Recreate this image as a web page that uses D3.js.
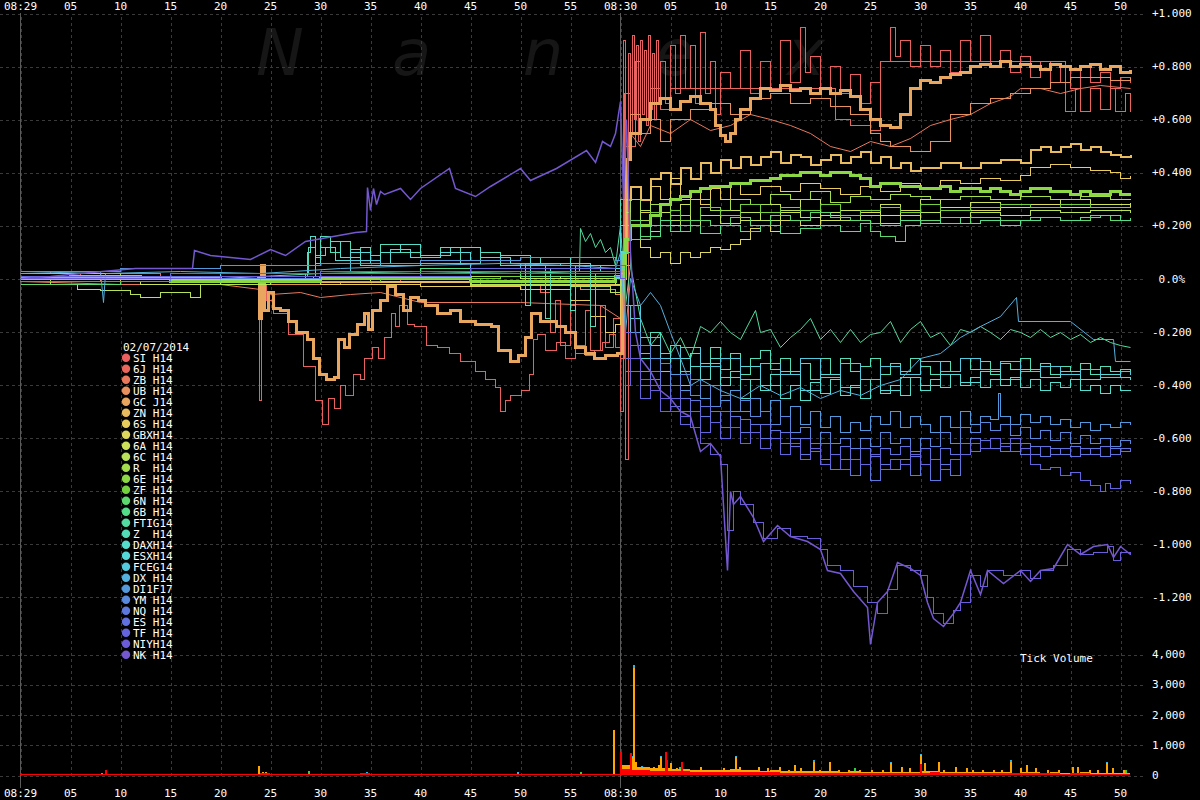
<!DOCTYPE html>
<html><head><meta charset="utf-8">
<script src="https://cdn.jsdelivr.net/npm/d3@7"></script>
<style>
body{margin:0;background:#000;}
svg{display:block;}
text{font-family:"DejaVu Sans Mono",monospace;font-size:11px;fill:#fff;white-space:pre;}
</style>
</head><body><svg id="c" width="1200" height="800"></svg>
<script>
// ---------------- DATA (seconds after 08:29:00, % change) ----------------
const legendTitle = "02/07/2014";
const seriesNames = ["SI H14","6J H14","ZB H14","UB H14","GC J14","ZN H14","6S H14","GBXH14","6A H14","6C H14","R  H14","6E H14","ZF H14","6N H14","6B H14","FTIG14","Z  H14","DAXH14","ESXH14","FCEG14","DX H14","DI1F17","YM H14","NQ H14","ES H14","TF H14","NIYH14","NK H14"];
const seriesColors = ["#e8605f","#e8665c","#e8785c","#e8905e","#e8a65e","#e8bc5e","#e8cc5e","#dcd85e","#cce05a","#b8e058","#a4dc4c","#8cd844","#74d03c","#5cd86c","#54dc88","#54dca0","#54dcb8","#54dccc","#54d8d8","#54c8dc","#54b0dc","#5498dc","#5888dc","#5c78dc","#6070dc","#6464dc","#6c5cd8","#7458d0"];

const SI = [[0,0.02],[3,0.03],[8,0.01],[15,0.0],[22,-0.01],[23.8,0.0],[23.9,-0.46],[24.1,-0.02],[24.6,-0.08],[25.3,-0.13],[26.8,-0.21],[28.3,-0.33],[29.5,-0.46],[30.2,-0.55],[30.8,-0.45],[31.4,-0.49],[32.0,-0.40],[32.5,-0.44],[33.3,-0.36],[34.0,-0.38],[34.4,-0.30],[35.2,-0.26],[35.8,-0.30],[36.4,-0.22],[37.1,-0.13],[37.5,-0.18],[37.9,-0.10],[38.7,-0.17],[39.4,-0.18],[40.6,-0.25],[41.7,-0.26],[42.9,-0.28],[44,-0.31],[45.5,-0.35],[46.5,-0.38],[47.5,-0.41],[48,-0.50],[48.5,-0.46],[49,-0.44],[50.1,-0.42],[50.9,-0.36],[51.3,-0.23],[51.7,-0.21],[52.5,-0.27],[53.6,-0.24],[54.5,-0.3],[55.5,-0.25],[56.5,-0.29],[57.4,-0.27],[58.2,-0.24],[58.9,-0.21],[59.5,-0.26],[60.0,-0.5],[60.3,0.9],[60.5,-0.68],[60.8,0.85],[61.0,0.55],[61.2,0.92],[61.4,0.6],[61.6,0.88],[61.8,0.52],[62.0,0.9],[62.2,0.62],[62.4,0.86],[62.6,0.58],[62.8,0.92],[63.0,0.64],[63.2,0.85],[63.4,0.6],[63.6,0.9],[63.8,0.66],[64,0.82],[64.5,0.66],[65,0.88],[65.5,0.7],[66,0.92],[66.5,0.72],[67,0.88],[67.5,0.66],[68,0.93],[68.5,0.7],[69,0.82],[69.5,0.62],[70,0.78],[71,0.72],[72,0.86],[73,0.7],[74,0.82],[75,0.72],[76,0.9],[77,0.74],[78,0.95],[78.5,0.78],[79,0.84],[80,0.72],[81,0.8],[82,0.7],[83,0.77],[84,0.66],[85,0.74],[86,0.82],[87,0.95],[87.5,0.84],[88,0.9],[89,0.8],[90,0.88],[91,0.8],[92,0.86],[93,0.78],[94,0.9],[95,0.82],[96,0.92],[97,0.8],[98,0.86],[99,0.78],[100,0.84],[101,0.76],[102,0.82],[103,0.74],[104,0.8],[105,0.72],[106,0.8],[107,0.74],[108,0.78],[109,0.72],[110,0.76],[111,0.74]];
const J6 = [[0,0.01],[6,0.02],[14,0.01],[22,0.0],[30,-0.01],[38,0.0],[46,-0.02],[52,-0.05],[53,-0.2],[53.5,-0.08],[54,-0.25],[55,-0.1],[55.5,-0.28],[56.5,-0.12],[57,-0.27],[58,-0.1],[58.5,-0.26],[59.3,-0.15],[60,-0.3],[60.4,0.7],[61,0.5],[61.5,0.82],[62,0.6],[63,0.72],[64,0.64],[65,0.72],[81,0.72],[81.5,0.6],[83,0.58],[85,0.56],[86,0.82],[104,0.82],[104.5,0.63],[105.5,0.72],[106,0.63],[107,0.72],[108,0.64],[109,0.72],[109.5,0.63],[110.5,0.7],[111,0.63]];
const ZB = [[0,-0.01],[10,-0.02],[20,-0.02],[24,-0.04],[25,-0.06],[28,-0.05],[30,-0.07],[33,-0.06],[36,-0.05],[40,-0.09],[50,-0.09],[58,-0.1],[60,-0.15],[60.5,0.3],[61,0.55],[62,0.5],[63,0.58],[65,0.55],[67,0.6],[69,0.56],[71,0.58],[73,0.62],[75,0.6],[77,0.58],[79,0.55],[81,0.5],[83,0.48],[85,0.52],[87,0.5],[89,0.53],[91,0.58],[93,0.6],[95,0.62],[97,0.66],[99,0.69],[100,0.72],[102,0.72],[104,0.7],[106,0.72],[108,0.73],[111,0.72]];
const UB = [[0,0.0],[8,-0.01],[16,0.0],[24,-0.02],[32,-0.01],[40,-0.03],[48,-0.02],[56,-0.04],[59.5,-0.06],[60,-0.1],[60.5,0.5],[61,0.62],[62,0.55],[63,0.6],[64,0.52],[65,0.6],[67,0.64],[69,0.66],[71,0.62],[73,0.68],[75,0.7],[77,0.66],[79,0.68],[81,0.65],[83,0.62],[85,0.55],[86,0.52],[87,0.5],[89,0.48],[91,0.52],[93,0.62],[95,0.66],[97,0.68],[99,0.7],[101,0.72],[103,0.74],[105,0.76],[107,0.76],[109,0.75],[111,0.76]];
const GC = [[0,0.0],[5,0.01],[12,0.0],[20,-0.01],[23.8,0.0],[23.9,-0.15],[24.1,0.05],[24.4,-0.12],[24.8,-0.05],[25.3,-0.11],[26,-0.12],[26.8,-0.16],[27.6,-0.2],[28.7,-0.23],[29.3,-0.3],[29.9,-0.36],[30.6,-0.38],[31.4,-0.37],[31.8,-0.23],[32.4,-0.26],[32.9,-0.21],[33.7,-0.17],[34.4,-0.13],[34.8,-0.19],[35.2,-0.12],[36,-0.08],[36.7,-0.03],[37.5,-0.06],[38.3,-0.12],[39,-0.07],[39.8,-0.08],[40.5,-0.1],[41.7,-0.13],[43,-0.12],[44,-0.16],[45.5,-0.17],[47.1,-0.18],[47.8,-0.27],[49,-0.31],[49.8,-0.29],[50.5,-0.22],[51.1,-0.13],[52,-0.16],[53.6,-0.18],[54.5,-0.2],[55.5,-0.26],[56.5,-0.28],[57.4,-0.3],[58.5,-0.29],[59.7,-0.28],[60.2,0.1],[60.6,0.45],[61,0.55],[62,0.6],[63,0.66],[64,0.68],[65,0.64],[66,0.67],[67,0.69],[68,0.66],[69,0.64],[69.5,0.58],[70,0.54],[70.5,0.52],[71,0.55],[71.5,0.6],[72,0.64],[73,0.68],[74,0.72],[75,0.71],[76,0.73],[77,0.71],[78,0.72],[79,0.7],[80,0.72],[81,0.7],[82,0.71],[83,0.69],[84,0.64],[85,0.6],[86,0.58],[87,0.57],[88,0.62],[89,0.72],[90,0.75],[91,0.74],[92,0.76],[93,0.77],[94,0.78],[95,0.8],[96,0.81],[97,0.8],[98,0.82],[99,0.8],[100,0.81],[101,0.8],[102,0.79],[103,0.81],[104,0.8],[105,0.79],[106,0.8],[107,0.81],[108,0.79],[109,0.8],[110,0.78],[111,0.79]];
const ZN = [[0,0.01],[15,0.0],[30,-0.01],[45,-0.02],[58,-0.02],[60,0.0],[60.5,0.3],[61,0.35],[62,0.3],[63,0.38],[64,0.4],[65,0.36],[66,0.42],[67,0.38],[68,0.44],[69,0.4],[70,0.45],[71,0.42],[72,0.46],[73,0.43],[74,0.46],[75,0.48],[76,0.44],[77,0.47],[78,0.46],[79,0.43],[80,0.45],[81,0.47],[82,0.44],[83,0.46],[84,0.48],[85,0.44],[86,0.46],[87,0.42],[88,0.44],[89,0.41],[90,0.42],[92,0.44],[94,0.42],[96,0.44],[98,0.45],[100,0.44],[101,0.49],[102,0.5],[103,0.48],[104,0.5],[105,0.51],[106,0.49],[107,0.5],[108,0.48],[109,0.47],[110,0.46],[111,0.47]];
const S6 = [[0,0.0],[10,-0.01],[20,0.0],[30,-0.02],[40,-0.03],[50,-0.04],[55,-0.08],[57,-0.14],[58.5,-0.2],[59.5,-0.17],[60,0.05],[60.5,0.2],[61,0.3],[62,0.25],[63,0.35],[64,0.3],[65,0.38],[66,0.3],[67,0.33],[68,0.28],[69,0.34],[70,0.3],[71,0.36],[72,0.32],[74,0.35],[76,0.33],[78,0.36],[80,0.34],[82,0.32],[84,0.35],[86,0.33],[88,0.36],[90,0.34],[92,0.37],[94,0.36],[96,0.38],[98,0.37],[100,0.39],[101,0.42],[103,0.43],[105,0.42],[107,0.41],[109,0.4],[110,0.38],[111,0.39]];
const GBX = [[0,0.0],[9,0.01],[18,0.0],[27,-0.01],[36,0.0],[45,0.01],[54,0.0],[59.5,-0.02],[60,0.2],[60.5,0.1],[61,0.2],[62,0.12],[63,0.08],[64,0.1],[65,0.06],[66,0.1],[67,0.08],[68,0.1],[69,0.12],[70,0.11],[71,0.13],[72,0.15],[73,0.19],[74,0.2],[75,0.18],[76,0.22],[78,0.2],[80,0.24],[82,0.22],[84,0.25],[86,0.24],[88,0.26],[90,0.25],[92,0.27],[95,0.26],[98,0.27],[101,0.28],[104,0.27],[107,0.28],[111,0.27]];
const A6 = [[0,-0.01],[12,-0.02],[20,-0.01],[30,0.0],[40,0.01],[50,0.0],[59.5,0.02],[60.5,0.25],[61,0.15],[62,0.22],[63,0.18],[64,0.25],[65,0.2],[66,0.28],[67,0.2],[68,0.24],[70,0.26],[72,0.22],[74,0.28],[76,0.25],[78,0.3],[80,0.22],[82,0.26],[84,0.24],[86,0.28],[88,0.22],[90,0.3],[92,0.27],[95,0.29],[98,0.28],[101,0.27],[104,0.3],[107,0.28],[111,0.29]];
const C6 = [[0,0.0],[3,-0.02],[5.7,-0.04],[8,-0.045],[11,-0.06],[12,-0.07],[14,-0.05],[17,-0.07],[18,-0.02],[25,-0.01],[35,0.0],[45,-0.02],[55,-0.03],[59,-0.05],[60,0.1],[60.5,0.3],[61,0.2],[62,0.26],[63,0.18],[64,0.22],[66,0.2],[68,0.24],[70,0.21],[72,0.25],[74,0.22],[76,0.26],[78,0.23],[80,0.25],[82,0.22],[84,0.24],[86,0.21],[88,0.24],[90,0.25],[92,0.23],[95,0.25],[98,0.24],[101,0.26],[104,0.25],[107,0.26],[111,0.25]];
const R = [[0,0.02],[10,0.01],[20,0.02],[30,0.0],[40,0.01],[50,0.02],[59.5,0.0],[60.5,0.2],[61,0.3],[62,0.22],[63,0.28],[65,0.24],[67,0.3],[69,0.26],[71,0.3],[73,0.28],[75,0.32],[77,0.3],[79,0.33],[81,0.29],[83,0.31],[85,0.3],[87,0.32],[89,0.31],[91,0.3],[94,0.31],[97,0.3],[100,0.31],[103,0.3],[106,0.31],[109,0.3],[111,0.3]];
const E6 = [[0,0.0],[15,-0.01],[30,0.0],[45,-0.01],[59.5,0.01],[60.5,0.15],[61,0.2],[62,0.2],[63,0.24],[64,0.28],[65,0.3],[66,0.31],[67,0.33],[68,0.34],[69,0.35],[70,0.35],[71,0.36],[72,0.36],[73,0.37],[74,0.37],[75,0.38],[76,0.39],[77,0.39],[78,0.4],[79,0.4],[80,0.39],[81,0.4],[82,0.4],[83,0.39],[84,0.38],[85,0.35],[86,0.36],[87,0.36],[88,0.35],[89,0.35],[90,0.34],[91,0.34],[92,0.35],[93,0.33],[94,0.34],[95,0.34],[96,0.33],[97,0.34],[98,0.33],[99,0.32],[100,0.33],[101,0.34],[102,0.34],[103,0.33],[104,0.33],[105,0.32],[106,0.33],[107,0.32],[108,0.32],[109,0.33],[110,0.32],[111,0.32]];
const ZF = [[0,0.01],[12,0.0],[24,-0.01],[36,0.0],[48,0.01],[59.5,0.0],[60.5,0.1],[61,0.2],[62,0.15],[63,0.25],[64,0.2],[65,0.26],[66,0.22],[68,0.27],[70,0.24],[72,0.28],[74,0.25],[76,0.27],[78,0.26],[80,0.28],[82,0.24],[84,0.26],[86,0.27],[88,0.25],[90,0.28],[92,0.26],[95,0.27],[98,0.28],[101,0.27],[104,0.28],[107,0.27],[111,0.27]];
const N6 = [[0,-0.02],[10,-0.01],[20,0.0],[30,0.02],[40,0.03],[50,0.01],[59.5,0.03],[60.5,0.1],[61,0.22],[62,0.16],[63,0.2],[65,0.18],[67,0.22],[69,0.2],[71,0.23],[73,0.2],[75,0.24],[77,0.22],[79,0.25],[81,0.23],[83,0.22],[85,0.18],[86,0.16],[87.5,0.14],[88.5,0.2],[90,0.22],[92,0.21],[95,0.23],[98,0.22],[101,0.23],[104,0.22],[107,0.24],[109,0.22],[111,0.23]];
const B6 = [[0,0.0],[10,0.01],[20,0.02],[30,0.03],[40,0.04],[50,0.05],[59.5,0.04],[60.5,0.05],[61,0.15],[62,0.2],[63,0.16],[64,0.22],[65,0.18],[66,0.2],[68,0.17],[70,0.2],[72,0.18],[74,0.2],[76,0.17],[78,0.19],[80,0.2],[82,0.18],[84,0.21],[86,0.2],[88,0.22],[90,0.21],[92,0.23],[94,0.21],[96,0.22],[98,0.2],[100,0.22],[102,0.23],[104,0.22],[106,0.23],[108,0.24],[110,0.22],[111,0.23]];
const FTIG = [[0,0.0],[10,0.01],[20,0.0],[30,0.02],[40,0.03],[50,0.02],[55.9,0.03],[56,0.19],[56.5,0.14],[57,0.17],[57.5,0.12],[58,0.15],[58.5,0.1],[59,0.12],[59.5,0.05],[60,0.2],[60.5,-0.1],[61,0.05],[62,-0.15],[63,-0.25],[64,-0.2],[65,-0.28],[66,-0.22],[67,-0.3],[68,-0.18],[69,-0.2],[70,-0.16],[71,-0.2],[72,-0.23],[73.5,-0.12],[74,-0.2],[75,-0.19],[76,-0.26],[77,-0.22],[78,-0.19],[79,-0.15],[80,-0.23],[81,-0.19],[82,-0.24],[83,-0.19],[84,-0.24],[85,-0.21],[86,-0.2],[87,-0.16],[88,-0.24],[89,-0.19],[90,-0.16],[91,-0.22],[92,-0.2],[93,-0.25],[94,-0.19],[95,-0.2],[96,-0.18],[97,-0.2],[98,-0.23],[99,-0.19],[100,-0.2],[101,-0.22],[102,-0.19],[103,-0.22],[104,-0.2],[105,-0.23],[106,-0.21],[107,-0.24],[108,-0.22],[109,-0.24],[110,-0.25],[111,-0.26]];
const Z = [[0,0.0],[10,0.01],[20,0.0],[28.5,0.02],[28.8,0.12],[29.5,0.08],[30,0.16],[31,0.1],[32,0.14],[33,0.08],[34,0.12],[35,0.09],[36,0.13],[38,0.1],[40,0.08],[42,0.12],[44,0.06],[46,0.1],[48,0.05],[50,0.06],[50.5,-0.1],[51,0.05],[52.5,-0.15],[53,0.04],[55,-0.12],[55.5,0.05],[57,-0.18],[57.5,0.02],[59.5,0.0],[60,0.3],[60.5,-0.2],[61,-0.1],[62,-0.25],[63,-0.2],[64,-0.32],[65,-0.25],[66,-0.35],[67,-0.28],[68,-0.33],[69,-0.26],[70,-0.34],[71,-0.28],[72,-0.36],[73,-0.3],[74,-0.27],[75,-0.34],[76,-0.3],[77,-0.36],[78,-0.32],[79,-0.38],[80,-0.3],[81,-0.36],[82,-0.3],[83,-0.35],[84,-0.33],[85,-0.3],[86,-0.36],[87,-0.32],[88,-0.35],[89,-0.3],[90,-0.33],[91,-0.36],[92,-0.31],[93,-0.35],[94,-0.3],[95,-0.34],[96,-0.31],[97,-0.36],[98,-0.32],[99,-0.34],[100,-0.3],[101,-0.35],[102,-0.32],[103,-0.36],[104,-0.33],[105,-0.35],[106,-0.32],[107,-0.36],[108,-0.33],[109,-0.35],[110,-0.34],[111,-0.35]];
const DAX = [[0,0.01],[15,0.0],[28.5,0.01],[28.7,0.1],[29,0.16],[29.5,0.06],[30,0.12],[31,0.14],[32,0.08],[33,0.11],[34,0.05],[36,0.1],[38,0.13],[40,0.09],[43,0.12],[46,0.08],[49,0.06],[52,0.08],[55,0.05],[58,0.03],[59.5,0.02],[60,0.1],[60.5,-0.3],[61,-0.15],[62,-0.3],[63,-0.25],[64,-0.35],[65,-0.3],[66,-0.4],[67,-0.33],[68,-0.38],[69,-0.3],[70,-0.4],[71,-0.35],[72,-0.45],[73,-0.38],[74,-0.42],[75,-0.36],[76,-0.45],[77,-0.4],[78,-0.46],[79,-0.39],[80,-0.43],[81,-0.38],[82,-0.44],[83,-0.4],[84,-0.45],[85,-0.38],[86,-0.43],[87,-0.4],[88,-0.44],[89,-0.37],[90,-0.42],[91,-0.38],[92,-0.41],[93,-0.36],[94,-0.4],[95,-0.37],[96,-0.41],[97,-0.38],[98,-0.4],[99,-0.37],[100,-0.41],[101,-0.38],[102,-0.42],[103,-0.39],[104,-0.41],[105,-0.38],[106,-0.42],[107,-0.4],[108,-0.43],[109,-0.4],[110,-0.42],[111,-0.42]];
const ESX = [[0,0.01],[15,0.0],[29.3,0.01],[29.5,0.09],[30.5,0.12],[31.5,0.07],[33,0.1],[35,0.06],[37,0.11],[39,0.08],[42,0.1],[45,0.07],[48,0.09],[51,0.05],[54,0.06],[57,0.03],[59.5,0.04],[60,0.2],[60.5,-0.1],[61,-0.3],[62,-0.22],[63,-0.35],[64,-0.28],[65,-0.36],[66,-0.3],[67,-0.38],[68,-0.32],[70,-0.37],[72,-0.33],[74,-0.4],[76,-0.35],[78,-0.42],[80,-0.36],[82,-0.41],[84,-0.38],[86,-0.42],[88,-0.37],[90,-0.4],[92,-0.36],[94,-0.39],[96,-0.35],[98,-0.38],[100,-0.34],[102,-0.37],[104,-0.35],[106,-0.38],[108,-0.36],[110,-0.37],[111,-0.38]];
const FCE = [[0,0.0],[10,0.01],[20,0.02],[30,0.03],[33,0.07],[36,0.05],[40,0.06],[45,0.04],[50,0.06],[55,0.03],[59.5,0.02],[60,0.0],[60.5,-0.2],[61,-0.1],[62,-0.28],[63,-0.22],[64,-0.3],[66,-0.26],[68,-0.33],[70,-0.3],[72,-0.38],[74,-0.32],[76,-0.36],[78,-0.3],[80,-0.37],[82,-0.32],[84,-0.38],[86,-0.33],[88,-0.36],[90,-0.31],[92,-0.35],[94,-0.3],[96,-0.34],[98,-0.31],[100,-0.35],[102,-0.33],[104,-0.36],[106,-0.34],[108,-0.37],[110,-0.35],[111,-0.36]];
const DX = [[0,0.02],[8,0.03],[8.3,-0.09],[8.5,0.02],[16,0.03],[24,0.02],[32,0.04],[40,0.05],[48,0.06],[55,0.05],[59.5,0.04],[60,0.1],[60.5,-0.2],[61,0.0],[62,-0.1],[63,-0.05],[64,-0.1],[65,-0.2],[66,-0.3],[66.5,-0.35],[67,-0.4],[68,-0.38],[70,-0.42],[72,-0.45],[74,-0.4],[76,-0.44],[78,-0.41],[80,-0.45],[82,-0.42],[84,-0.44],[86,-0.4],[88,-0.38],[90,-0.3],[92,-0.28],[94,-0.22],[96,-0.18],[98,-0.14],[99.6,-0.07],[99.8,-0.16],[105,-0.16],[107.3,-0.23],[109.3,-0.23],[109.5,-0.31],[111,-0.31]];
const DI1 = [[0,0.03],[10,0.04],[20,0.05],[30,0.06],[40,0.07],[50,0.08],[59.5,0.07],[60,0.0],[60.5,-0.3],[61,-0.2],[62,-0.35],[63,-0.3],[64,-0.4],[65,-0.36],[66,-0.42],[67,-0.38],[68,-0.45],[69,-0.4],[70,-0.46],[71,-0.42],[72,-0.5],[73,-0.45],[74,-0.5],[75,-0.46],[76,-0.52],[77,-0.48],[78,-0.55],[79,-0.5],[80,-0.56],[81,-0.52],[82,-0.58],[83,-0.54],[84,-0.57],[85,-0.52],[86,-0.55],[87,-0.5],[88,-0.56],[89,-0.52],[90,-0.55],[91,-0.58],[92,-0.52],[93,-0.56],[94,-0.5],[95,-0.55],[96,-0.52],[97,-0.53],[97.8,-0.43],[98,-0.52],[99,-0.55],[100,-0.51],[101,-0.54],[102,-0.52],[103,-0.55],[104,-0.53],[105,-0.56],[106,-0.54],[107,-0.57],[108,-0.55],[109,-0.56],[110,-0.54],[111,-0.55]];
const YM = [[0,-0.01],[15,0.0],[30,0.01],[45,0.02],[59.5,0.01],[60,0.05],[60.5,-0.2],[61,-0.3],[62,-0.25],[63,-0.38],[64,-0.32],[65,-0.4],[66,-0.36],[67,-0.44],[68,-0.4],[69,-0.48],[70,-0.44],[71,-0.5],[72,-0.46],[73,-0.52],[74,-0.5],[75,-0.55],[76,-0.52],[77,-0.58],[78,-0.56],[79,-0.62],[80,-0.58],[81,-0.62],[82,-0.6],[83,-0.64],[84,-0.6],[85,-0.63],[86,-0.58],[87,-0.62],[88,-0.6],[89,-0.65],[90,-0.6],[91,-0.63],[92,-0.58],[93,-0.62],[94,-0.56],[95,-0.58],[96,-0.54],[97,-0.57],[98,-0.55],[99,-0.59],[100,-0.56],[101,-0.6],[102,-0.57],[103,-0.61],[104,-0.58],[105,-0.62],[106,-0.59],[107,-0.62],[108,-0.6],[109,-0.63],[110,-0.61],[111,-0.62]];
const NQ = [[0,0.0],[15,0.01],[30,0.02],[45,0.03],[59.5,0.02],[60,0.0],[60.5,-0.35],[61,-0.25],[62,-0.4],[63,-0.35],[64,-0.45],[65,-0.4],[66,-0.5],[67,-0.46],[68,-0.52],[69,-0.5],[70,-0.56],[71,-0.52],[72,-0.58],[73,-0.55],[74,-0.6],[75,-0.57],[76,-0.62],[77,-0.6],[78,-0.66],[79,-0.62],[80,-0.68],[81,-0.72],[82,-0.68],[83,-0.74],[84,-0.7],[85,-0.76],[86,-0.7],[87,-0.72],[88,-0.68],[89,-0.74],[90,-0.7],[91,-0.76],[92,-0.7],[93,-0.74],[94,-0.66],[95,-0.6],[96,-0.64],[97,-0.6],[98,-0.65],[99,-0.62],[100,-0.66],[101,-0.63],[102,-0.67],[103,-0.64],[104,-0.66],[105,-0.63],[106,-0.66],[107,-0.64],[108,-0.67],[109,-0.64],[110,-0.65],[111,-0.64]];
const ES = [[0,0.0],[15,0.01],[30,0.01],[45,0.02],[59.5,0.03],[60,0.0],[60.5,-0.3],[61,-0.35],[62,-0.38],[63,-0.42],[64,-0.4],[65,-0.48],[66,-0.45],[67,-0.5],[68,-0.48],[69,-0.54],[70,-0.5],[71,-0.56],[72,-0.53],[73,-0.58],[74,-0.55],[75,-0.6],[76,-0.58],[77,-0.63],[78,-0.6],[79,-0.65],[80,-0.62],[81,-0.66],[82,-0.63],[83,-0.68],[84,-0.64],[85,-0.67],[86,-0.64],[87,-0.66],[88,-0.63],[89,-0.67],[90,-0.64],[91,-0.68],[92,-0.64],[93,-0.66],[94,-0.62],[95,-0.65],[96,-0.61],[97,-0.64],[98,-0.62],[99,-0.65],[100,-0.62],[101,-0.66],[102,-0.63],[103,-0.66],[104,-0.64],[105,-0.67],[106,-0.64],[107,-0.66],[108,-0.63],[109,-0.66],[110,-0.64],[111,-0.65]];
const TF = [[0,0.01],[15,0.02],[30,0.03],[45,0.04],[59.5,0.05],[60,0.05],[60.5,-0.4],[61,-0.3],[62,-0.45],[63,-0.4],[64,-0.5],[65,-0.45],[66,-0.55],[67,-0.5],[68,-0.58],[69,-0.54],[70,-0.6],[71,-0.56],[72,-0.62],[73,-0.58],[74,-0.64],[75,-0.6],[76,-0.66],[77,-0.62],[78,-0.68],[79,-0.64],[80,-0.7],[81,-0.66],[82,-0.72],[83,-0.68],[84,-0.7],[85,-0.66],[86,-0.72],[87,-0.68],[88,-0.7],[89,-0.66],[90,-0.7],[91,-0.68],[92,-0.72],[93,-0.68],[94,-0.66],[95,-0.62],[96,-0.64],[97,-0.6],[98,-0.63],[99,-0.6],[100,-0.64],[101,-0.7],[102,-0.72],[103,-0.71],[104,-0.74],[105,-0.73],[106,-0.76],[107,-0.78],[108,-0.8],[108.5,-0.77],[109,-0.79],[110,-0.76],[111,-0.77]];
const NIY = [[0,0.0],[20,0.01],[40,0.02],[59.5,0.03],[60,0.0],[60.5,-0.2],[61,-0.3],[62,-0.38],[63,-0.42],[64,-0.45],[65,-0.5],[66,-0.52],[67,-0.56],[68,-0.62],[69,-0.66],[70,-0.7],[70.7,-0.95],[71.3,-0.8],[72,-0.85],[73.3,-0.92],[74.3,-0.98],[75.7,-0.94],[77,-0.97],[78.7,-0.98],[80,-1.02],[80.7,-1.08],[82,-1.1],[83.3,-1.16],[84.7,-1.22],[85.7,-1.26],[86.7,-1.17],[87.7,-1.08],[89,-1.1],[90,-1.12],[90.7,-1.2],[91.3,-1.26],[92.3,-1.3],[93.3,-1.25],[94,-1.22],[95,-1.12],[96,-1.16],[96.7,-1.1],[98.3,-1.12],[100,-1.1],[101,-1.13],[102,-1.1],[103.3,-1.08],[104.7,-1.02],[106,-1.04],[107.3,-1.03],[108.7,-1.01],[109.3,-1.06],[110,-1.03],[111,-1.04]];
const NK = [[0,0.0],[3,0.01],[6,0.02],[11.5,0.04],[17.2,0.04],[17.4,0.107],[19,0.09],[23,0.075],[25,0.11],[26.5,0.09],[28.5,0.14],[33.5,0.176],[34.6,0.18],[34.7,0.346],[35,0.26],[35.3,0.34],[35.6,0.28],[36,0.33],[36.4,0.32],[38,0.34],[39,0.3],[40,0.34],[42.9,0.415],[43.5,0.34],[45.5,0.31],[47,0.35],[50,0.415],[51,0.37],[53.6,0.415],[56.6,0.484],[57.5,0.44],[58.2,0.52],[59,0.5],[59.5,0.55],[60,0.67],[60.3,0.3],[60.6,0.6],[61,0.1],[61.5,-0.2],[62,-0.3],[63,-0.35],[64,-0.42],[65,-0.45],[66,-0.5],[67,-0.52],[68,-0.65],[69,-0.62],[70,-0.67],[70.7,-1.1],[71,-0.8],[71.3,-0.85],[72,-0.82],[73.3,-0.9],[74.3,-0.99],[75.7,-0.93],[77,-0.97],[78.7,-0.99],[80,-1.02],[80.7,-1.1],[82,-1.11],[83.3,-1.18],[84.7,-1.24],[85,-1.38],[85.7,-1.22],[86.7,-1.18],[87.7,-1.07],[89,-1.09],[90,-1.12],[90.7,-1.22],[91.3,-1.28],[92.3,-1.31],[93.3,-1.26],[94,-1.22],[95,-1.1],[96,-1.19],[96.7,-1.1],[98.3,-1.15],[100,-1.1],[101,-1.14],[102,-1.1],[103.3,-1.09],[104.7,-1.0],[106,-1.04],[107.3,-1.01],[108.7,-1.0],[109.3,-1.05],[110,-1.01],[111,-1.04]];

const seriesData = [SI,J6,ZB,UB,GC,ZN,S6,GBX,A6,C6,R,E6,ZF,N6,B6,FTIG,Z,DAX,ESX,FCE,DX,DI1,YM,NQ,ES,TF,NIY,NK];

// tick volume (ticks per one-second bucket for the red/orange bases; spikes are [t, ticks])
const volRedBase = [30,30,35,30,30,35,30,30,45,40, 30,30,35,30,30,35,40,30,30,35, 30,30,35,30,60,45,35,30,35,40, 35,30,30,35,60,40,35,35,40,35, 30,35,30,30,35,30,35,30,30,35, 40,30,30,35,30,35,40,35,30,40, 200,170,150,140,130,120,120,110,100,100, 100,110,100,90,90,90,80,80,80,80, 80,80,70,80,70,70,60,70,70,60, 80,90,70,60,60,50,60,50,50,50, 60,60,50,50,40,50,50,40,40,40,40];
const volOrangeBase = [330,280,250,220,230,200,210,180,170,160,170,190,160,150,140,150,130,120,140,120,120,140,110,120,110,100,100,110,100,100,130,140,110,100,100,90,100,90,90,80,100,100,80,90,70,80,90,70,70,70,60];
const volRedSpikes = [[8.6,150],[60.1,770],[61.1,740],[64.6,770],[64.7,500],[66.2,420],[90.1,380]];
const volOrangeSpikes = [[23.9,300],[24.3,90],[24.6,110],[24.8,80],[59.4,1490],[61.35,3530],[61.25,600],[61.6,440],[62.2,275],[62.8,220],[63.4,275],[63.9,330],[64.1,600],[65.1,385],[65.65,220],[66.2,220],[66.8,165],[67.6,165],[68.1,275],[69.1,165],[70.4,220],[71.0,165],[71.6,600],[72.0,275],[72.7,165],[73.9,275],[74.8,220],[76.0,275],[76.9,165],[77.5,330],[78.1,220],[79.4,440],[80.0,165],[81.0,440],[81.9,165],[82.9,165],[84.0,165],[85.2,165],[86.3,165],[87.1,385],[88.2,275],[89.0,220],[90.1,650],[90.5,385],[91.9,440],[92.4,165],[93.6,275],[94.7,220],[95.3,165],[96.3,165],[97.4,165],[98.2,165],[99.1,440],[100.1,220],[100.7,330],[101.6,220],[102.8,165],[103.9,165],[105.3,275],[105.8,275],[107.0,165],[107.8,165],[108.7,385],[109.3,220],[110.4,165]];
const volCyanSpikes = [[61.35,3620],[61.2,640],[62.2,310],[64.1,640],[71.6,640],[79.4,480],[87.1,420],[90.1,690],[99.1,480],[108.7,420],[34.7,110],[49.8,100],[8.2,60]];
const volGreenSpikes = [[28.9,130],[56.1,110],[66.0,260],[83.5,220],[110.6,180]];

// axes / ticks
const xTickSeconds = [0,5,10,15,20,25,30,35,40,45,50,55,60,65,70,75,80,85,90,95,100,105,110];
const xTickLabels = ["08:29","05","10","15","20","25","30","35","40","45","50","55","08:30","05","10","15","20","25","30","35","40","45","50"];
const yTickValues = [1.0,0.8,0.6,0.4,0.2,0.0,-0.2,-0.4,-0.6,-0.8,-1.0,-1.2];
const yTickLabels = ["+1.000","+0.800","+0.600","+0.400","+0.200"," 0.0%","-0.200","-0.400","-0.600","-0.800","-1.000","-1.200"];
const volTickValues = [0,1000,2000,3000,4000];
const volTickLabels = ["0","1,000","2,000","3,000","4,000"];
const watermarkLetters = ["N","a","n","e","x"];
const volumeTitle = "Tick Volume";

// ---------------- DRAWING ----------------
const W = 1200, H = 800;
const svg = d3.select("#c");
svg.append("rect").attr("width",W).attr("height",H).attr("fill","#000");

const x = d3.scaleLinear().domain([0,110]).range([20,1120]);
const y = d3.scaleLinear().domain([-1.2,1.0]).range([596.7,13.3]);
const yv = d3.scaleLinear().domain([0,4000]).range([775,654]);

// watermark
const wmX = d3.scalePoint().domain(d3.range(watermarkLetters.length)).range([280,806]);
svg.append("g").selectAll("text").data(watermarkLetters).join("text")
  .attr("x",(d,i)=>wmX(i)).attr("y",75).attr("text-anchor","middle")
  .style("font-family","DejaVu Sans").style("font-style","italic").style("font-size","64px").style("fill","#161616")
  .text(d=>d);

// grids
function styleGrid(g){ g.select(".domain").remove(); g.selectAll("line").attr("stroke","#3a3a3a").attr("stroke-dasharray","3,3").attr("shape-rendering","crispEdges"); }
svg.append("g").attr("transform","translate(0.5,775.5)")
  .call(d3.axisBottom(x).tickValues(xTickSeconds).tickSize(-762).tickFormat(""))
  .call(styleGrid);
svg.append("g").attr("transform","translate(0,0.5)")
  .call(d3.axisRight(y).tickValues(yTickValues).tickSize(1146).tickFormat(""))
  .call(styleGrid);
svg.append("g").attr("transform","translate(0,0.5)")
  .call(d3.axisRight(yv).tickValues(volTickValues).tickSize(1146).tickFormat(""))
  .call(styleGrid);

// minute markers
svg.append("g").selectAll("line").data([0,60]).join("line")
  .attr("x1",d=>x(d)+0.5).attr("x2",d=>x(d)+0.5).attr("y1",13).attr("y2",788)
  .attr("stroke","#5a5a5a").attr("stroke-width",1).attr("shape-rendering","crispEdges");

// axis labels
function styleLabels(g){ g.select(".domain").remove(); g.selectAll("line").remove(); g.attr("font-family",null).attr("font-size",null); }
svg.append("g").attr("transform","translate(0,13)")
  .call(d3.axisTop(x).tickValues(xTickSeconds).tickSize(0).tickPadding(3).tickFormat((d,i)=>xTickLabels[i]))
  .call(styleLabels);
svg.append("g").attr("transform","translate(0,789)")
  .call(d3.axisBottom(x).tickValues(xTickSeconds).tickSize(0).tickPadding(0).tickFormat((d,i)=>xTickLabels[i]))
  .call(styleLabels);
svg.append("g").attr("transform","translate(1152,0)")
  .call(d3.axisRight(y).tickValues(yTickValues).tickSize(0).tickPadding(0).tickFormat((d,i)=>yTickLabels[i]))
  .call(styleLabels);
svg.append("g").attr("transform","translate(1152,0)")
  .call(d3.axisRight(yv).tickValues(volTickValues).tickSize(0).tickPadding(0).tickFormat((d,i)=>volTickLabels[i]))
  .call(styleLabels);
svg.append("text").attr("x",1020).attr("y",yv(3850)).attr("dy","0.35em").text(volumeTitle);

// volume bars
const vol = svg.append("g").attr("shape-rendering","crispEdges");
function spikes(data,color,w){
  vol.append("g").selectAll("rect").data(data).join("rect")
    .attr("x",d=>Math.round(x(d[0])-w/2)).attr("width",w)
    .attr("y",d=>yv(d[1])).attr("height",d=>yv(0)-yv(d[1])).attr("fill",color);
}
spikes(volCyanSpikes,"#20b8f0",2);
spikes(volGreenSpikes,"#30d040",2);
spikes(volOrangeSpikes,"#ffa500",2);
vol.append("g").selectAll("rect").data(volOrangeBase).join("rect")
  .attr("x",(d,i)=>x(60+i)).attr("width",(d,i)=>x(61+i)-x(60+i))
  .attr("y",d=>yv(d)).attr("height",d=>yv(0)-yv(d)).attr("fill","#ffa500");
vol.append("g").selectAll("rect").data(volRedBase).join("rect")
  .attr("x",(d,i)=>x(i)).attr("width",(d,i)=>x(i+1)-x(i))
  .attr("y",d=>yv(d)).attr("height",d=>yv(0)-yv(d)).attr("fill","#ff0000");
spikes(volRedSpikes,"#ff0000",2);

// price lines
const linearSet = new Set(["ZB H14","FTIG14","DX H14","NK H14"]);
const widthMap = {"GC J14":2.6,"6E H14":2.6,"ZN H14":2,"NK H14":1.5,"NIYH14":1.5,"ES H14":1.5,"DAXH14":1.5};
const lines = svg.append("g").attr("transform","translate(0.5,0.5)");
seriesData.forEach((data,i)=>{
  const name = seriesNames[i];
  const gen = d3.line().x(d=>Math.round(x(d[0]))).y(d=>Math.round(y(d[1])))
    .curve(linearSet.has(name) ? d3.curveLinear : d3.curveStepAfter);
  lines.append("path").datum(data).attr("d",gen)
    .attr("fill","none").attr("stroke",seriesColors[i])
    .attr("stroke-width",widthMap[name]||1)
    .attr("shape-rendering", linearSet.has(name) ? "auto" : "crispEdges");
});

// legend
const lg = svg.append("g");
lg.append("text").attr("x",123).attr("y",346.7).attr("dy","0.35em").text(legendTitle);
const ly = d3.scaleLinear().domain([0,1]).range([357.7,368.7]);
const items = lg.selectAll("g.item").data(seriesNames).join("g").attr("class","item");
items.append("circle").attr("cx",126).attr("cy",(d,i)=>ly(i)).attr("r",4.2).attr("fill",(d,i)=>seriesColors[i]);
items.append("text").attr("x",133).attr("y",(d,i)=>ly(i)).attr("dy","0.35em").text(d=>d);
</script></body></html>
